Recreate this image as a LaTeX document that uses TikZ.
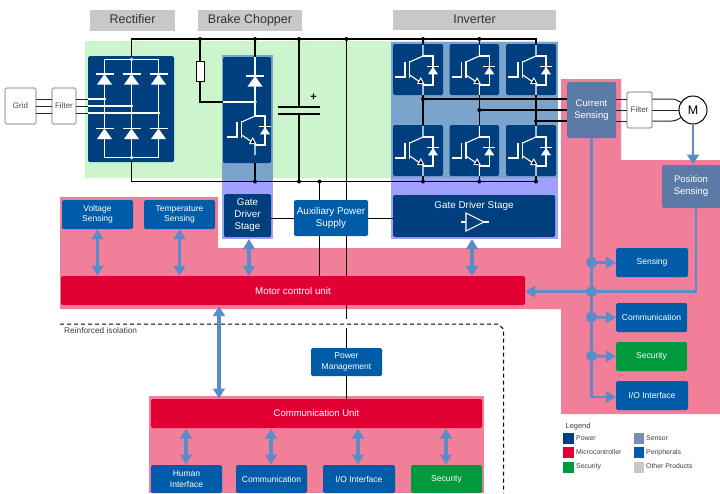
\documentclass[tikz,border=0pt]{standalone}
\usepackage{fontspec}
\setmainfont{Liberation Sans}
\usetikzlibrary{arrows.meta,calc}
\definecolor{navy}{HTML}{003F7D}
\definecolor{periph}{HTML}{005CA9}
\definecolor{mcu}{HTML}{E10033}
\definecolor{secu}{HTML}{009A3D}
\definecolor{sensr}{HTML}{5B7BA6}
\definecolor{pinkbg}{HTML}{F27F99}
\definecolor{greenbg}{HTML}{CCF5CC}
\definecolor{bluebg}{HTML}{7BA4CC}
\definecolor{purplebg}{HTML}{A0A0FF}
\definecolor{graybar}{HTML}{C8C8C8}
\definecolor{arrowblue}{HTML}{5B8BC9}
\definecolor{edge}{HTML}{666666}
\tikzset{
  x=1pt,y=-1pt,
  box/.style={rounded corners=1.5pt,inner sep=0pt,align=center,text=white,font=\fontsize{8.5}{10.5}\selectfont},
  powerbox/.style={box,fill=navy},
  periphbox/.style={box,fill=periph},
  mcubox/.style={box,fill=mcu},
  secubox/.style={box,fill=secu},
  sensbox/.style={box,fill=sensr,font=\fontsize{9.5}{12}\selectfont},
  graybox/.style={inner sep=0pt,fill=graybar,text=black!80,text height=9pt,text depth=2.5pt,font=\fontsize{12.5}{14}\selectfont},
  whitebox/.style={rounded corners=1.5pt,inner sep=0pt,fill=white,draw=edge,line width=.7pt,text=black!70,font=\fontsize{8}{9}\selectfont},
  bus/.style={line width=1.2pt,black},
  wirew/.style={line width=1.1pt,white},
  junction/.style={circle,fill=black,inner sep=0pt,minimum size=4pt},
  jw/.style={circle,fill=white,inner sep=0pt,minimum size=3.8pt},
  jb/.style={circle,fill=arrowblue,inner sep=0pt,minimum size=11pt},
  both/.style={line width=3.1pt,arrowblue,{Triangle[width=11.5pt,length=10pt]}-{Triangle[width=11.5pt,length=10pt]}},
  one/.style={line width=2.8pt,arrowblue,-{Triangle[width=11.5pt,length=10pt]}},
  flow/.style={line width=2.8pt,arrowblue},
  swatch/.style={inner sep=0pt,minimum width=10.5pt,minimum height=11pt},
  legtext/.style={inner sep=0pt,anchor=west,text=black!75,font=\fontsize{6.9}{8}\selectfont},
  diodesym/.pic={
    \fill[white] (-7.5,5.5) -- (7.5,5.5) -- (0,-5) -- cycle;
    \draw[white,line width=1.1pt] (-9,-5) -- (9,-5);
  },
  smalldiode/.pic={
    \fill[white] (-5,3.8) -- (5,3.8) -- (0,-3.6) -- cycle;
    \draw[white,line width=1pt] (-6,-3.6) -- (6,-3.6);
  },
  igbtsym/.pic={
    \draw[wirew] (-27.7,33) -- (-18,33) -- (-18,17.5);
    \draw[wirew,line width=1.2pt] (-13.3,17) -- (-13.3,34);
    \draw[wirew] (0,1) -- (0,12) -- (-13.3,18);
    \draw[wirew] (-13.3,31) -- (0,40) -- (0,51);
    \draw[wirew] (0,12) -- (10,12) -- (10,41) -- (0,41);
    \fill[white] (-6,40) -- (1.5,40) -- (-2.2,33) -- cycle;
    \fill[black] (-4.2,39) -- (-.3,39) -- (-2.2,35.3) -- cycle;
    \path (10,26.5) pic {smalldiode};
  },
}
\newcommand{\bxn}[7]{\node[#6,minimum width={(#4-#2)*1pt},minimum height={(#5-#3)*1pt}] (#1) at ({(#2+#4)/2},{(#3+#5)/2}) {#7};}
\begin{document}
\begin{tikzpicture}
\useasboundingbox (0,0) rectangle (720,493);
\fill[white] (0,0) rectangle (720,493);
% coloured regions
\fill[pinkbg] (60,197) -- (218,197) -- (218,248) -- (561,248) -- (561,79) -- (621,79) -- (621,160) -- (720,160) -- (720,414) -- (561,414) -- (561,309) -- (60,309) -- cycle;
\fill[pinkbg] (149,396) rectangle (484,493);
\fill[greenbg] (85,41) rectangle (558,178);
\fill[purplebg] (222,55) rectangle (273,239);
\fill[bluebg] (222,55) rectangle (273,181);
\fill[purplebg] (391,42) rectangle (558,239);
\fill[bluebg] (391,42) rectangle (558,178);
% header bars
\bxn{hrect}{90}{10}{175}{31}{graybox}{Rectifier}
\bxn{hbrake}{198}{10}{302}{31}{graybox}{Brake Chopper}
\bxn{hinv}{393}{10}{556}{30}{graybox}{Inverter}
% power blocks
\bxn{rect}{88}{56}{174}{162}{powerbox}{}
\bxn{brake}{223}{57}{271}{163}{powerbox}{}
\bxn{i1}{393}{44}{443}{95}{powerbox}{}
\bxn{i2}{449.5}{44}{499}{95}{powerbox}{}
\bxn{i3}{506}{44}{556}{95}{powerbox}{}
\bxn{i4}{393}{125}{443}{176}{powerbox}{}
\bxn{i5}{449.5}{125}{499}{176}{powerbox}{}
\bxn{i6}{506}{125}{556}{176}{powerbox}{}
% DC bus
\coordinate (tl) at (131.5,39); \coordinate (tr) at (536,39);
\coordinate (bl) at (131.5,181.5); \coordinate (br) at (536,181.5);
\draw[bus] (rect.north -| tl) -- (tl) -- (tr) -- (i3.north -| tr);
\draw[bus] (rect.south -| bl) -- (bl) -- (br) -- (i6.south -| br);
% left grid
\bxn{grid}{5}{88}{36}{124}{whitebox}{Grid}
\bxn{lfilt}{52}{88}{76}{124}{whitebox}{Filter}
\foreach \y in {99,106,113}{
  \draw[line width=1pt,black!85] (grid.east |- 0,\y) -- (lfilt.west |- 0,\y);
  \draw[line width=1pt,black!85] (lfilt.east |- 0,\y) -- (rect.west |- 0,\y);
}
% rectifier interior
\draw[wirew] (104.5,59.5) rectangle (158.5,157.5);
\draw[wirew] (131.5,59.5) -- (131.5,157.5);
\draw[wirew] (rect.west |- 0,99) -- (104.5,99);
\draw[wirew] (rect.west |- 0,106) -- (131.5,106);
\draw[wirew] (rect.west |- 0,113) -- (158.5,113);
\foreach \p in {(104.5,99),(131.5,106),(158.5,113),(131.5,59.5),(131.5,157.5)} \node[jw] at \p {};
\foreach \x in {104.5,131.5,158.5}{
  \path (\x,79) pic {diodesym};
  \path (\x,133.5) pic {diodesym};
}
% brake chopper
\coordinate (rtop) at (200,39);
\bxn{res}{196}{61}{204}{81}{rectangle,draw=black,fill=white,line width=.8pt,inner sep=0pt}{}
\coordinate (rj) at (200,102);
\draw[bus] (rtop) -- (res.north);
\draw[bus] (res.south) -- (rj) -- (brake.west |- rj);
\draw[bus] (brake.north -| 255,0) -- (255,39);
\draw[bus] (255,163) -- (255,181.5);
\draw[wirew] (brake.west |- rj) -- (255,102);
\draw[wirew] (255,57) -- (255,116);
\path (255,81) pic {diodesym};
\node[jw] at (255,102) {};
\path (255,104) pic {igbtsym};
% capacitor
\coordinate (captop) at (299,107); \coordinate (capbot) at (299,114);
\draw[bus] (299,39) -- (captop);
\draw[bus] (capbot) -- (299,181.5);
\draw[line width=1.2pt] (278,107) -- (320,107);
\draw[line width=1.2pt] (278,114) -- (320,114);
\node[inner sep=0pt,font=\bfseries\fontsize{11}{11}\selectfont] at (313.5,97) {+};
% inverter
\foreach \n/\x in {1/423,2/479.3,3/536}{ \path (\x,44) pic {igbtsym}; }
\foreach \n/\x in {4/423,5/479.3,6/536}{ \path (\x,125) pic {igbtsym}; }
\draw[bus] (423,39) -- (423,44);
\draw[bus] (479.3,39) -- (479.3,44);
\draw[bus] (423,95) -- (423,125);
\draw[bus] (479.3,95) -- (479.3,125);
\draw[bus] (536,95) -- (536,125);
\draw[bus] (423,176) -- (423,181.5);
\draw[bus] (479.3,176) -- (479.3,181.5);
% current sensing, right filter, motor
\bxn{cs}{567}{82}{616}{138}{sensbox}{Current\\Sensing}
\bxn{rfilt}{627}{92}{652}{128}{whitebox}{Filter}
\node[circle,draw=black,fill=white,line width=1pt,inner sep=0pt,minimum size=28pt,font=\fontsize{12.5}{14}\selectfont] (motor) at (693,110) {M};
\draw[bus] (423,99) -- (cs.west |- 0,99);
\draw[bus] (479.3,110) -- (cs.west |- 0,110);
\draw[bus] (536,121) -- (cs.west |- 0,121);
\foreach \y in {99,110,121}{ \draw[line width=1pt,black!85] (cs.east |- 0,\y) -- (rfilt.west |- 0,\y); }
\draw[line width=1pt,black!85] (rfilt.east |- 0,99) -- (672,99) .. controls (677,99) and (679,102) .. (682,103);
\draw[line width=1pt,black!85] (rfilt.east |- 0,110) -- (motor.west);
\draw[line width=1pt,black!85] (rfilt.east |- 0,121) -- (672,121) .. controls (677,121) and (679,118) .. (682,117);
% junctions
\foreach \p in {(200,39),(255,39),(299,39),(346.5,39),(423,39),(479.3,39),(255,181.5),(299,181.5),(319.5,181.5),(423,181.5),(479.3,181.5),(536,181.5),(423,99),(479.3,110),(536,121)}
  \node[junction] at \p {};
% lower blocks
\bxn{gd1}{224}{194}{271}{237}{powerbox,font=\fontsize{9.8}{12}\selectfont}{Gate\\Driver\\Stage}
\bxn{aux}{294}{200}{368}{236}{periphbox,font=\fontsize{9.9}{12}\selectfont}{Auxiliary Power\\Supply}
\bxn{gd2}{393}{195}{555}{237}{powerbox}{}
\node[inner sep=0pt,text=white,font=\fontsize{9.9}{11}\selectfont] at (474,206) {Gate Driver Stage};
\draw[wirew] (466,213) -- (466,231) -- (484,222) -- cycle;
\draw[wirew] (461,222) -- (466,222);
\draw[wirew] (484,222) -- (489,222);
\bxn{vs}{62}{200}{133}{229}{periphbox}{Voltage\\Sensing}
\bxn{ts}{144}{200}{215}{229}{periphbox}{Temperature\\Sensing}
\bxn{mc}{61}{276}{525}{305}{mcubox,font=\fontsize{9.8}{10}\selectfont}{Motor control unit}
\bxn{sens}{616}{248}{688}{277}{periphbox}{Sensing}
\bxn{comm}{616}{303}{687}{332}{periphbox}{Communication}
\bxn{sec}{616}{342}{687}{371}{secubox}{Security}
\bxn{iof}{616}{381}{688}{410}{periphbox}{I/O Interface}
\bxn{ps}{662}{165}{720}{208}{sensbox}{Position\\Sensing}
\bxn{pm}{311}{348}{382}{376}{periphbox}{Power\\Management}
\bxn{cu}{151}{399}{482}{428}{mcubox,font=\fontsize{9.5}{10}\selectfont}{Communication Unit}
\bxn{hi}{151}{465}{222}{493}{periphbox}{Human\\Interface}
\bxn{co2}{236}{465}{307}{493}{periphbox}{Communication}
\bxn{io2}{323}{465}{395}{493}{periphbox}{I/O Interface}
\bxn{se2}{411}{465}{482}{493}{secubox}{Security}
% black control wiring
\draw[bus,line width=.9pt] (gd1.east |- aux.west) -- (aux.west);
\draw[bus,line width=.9pt] (aux.east) -- (gd2.west |- aux.east);
\draw[bus] (319.5,181.5) -- (319.5,200);
\draw[bus] (319.5,236) -- (319.5,276);
\draw[bus] (346.5,39) -- (346.5,200);
\draw[bus] (346.5,236) -- (346.5,276);
\draw[bus] (346.5,305) -- (346.5,319);
\draw[bus] (346.5,328) -- (pm.north -| 346.5,0);
\draw[bus] (pm.south -| 346.5,0) -- (cu.north -| 346.5,0);
% isolation
\draw[line width=1pt,dash pattern=on 4pt off 3pt] (60,324) -- (498,324) -- (503.5,329) -- (503.5,493);
\node[inner sep=0pt,anchor=west,text=black!75,font=\fontsize{8.3}{9}\selectfont] (iso) at (64,331) {Reinforced isolation};
% blue arrows
\draw[both] (vs.south) -- (vs.south |- mc.north);
\draw[both] (ts.south) -- (ts.south |- mc.north);
\draw[both] (249,239) -- (249,276);
\draw[both] (472,239) -- (472,276);
\draw[both] (219,306) -- (219,398.5);
\draw[both] (186,428.5) -- (186,464.5);
\draw[both] (271,428.5) -- (271,464.5);
\draw[both] (358,428.5) -- (358,464.5);
\draw[both] (446,428.5) -- (446,464.5);
\draw[one] (motor.south) -- (693,164.5);
\coordinate (jh) at (591.5,291.5);
\draw[flow] (cs.south -| jh) -- (591.5,397) -- (605,397);
\draw[one] (591.5,397) -- (iof.west |- 0,397);
\draw[flow] (ps.south -| 696,0) -- (696,291.5) -- (jh);
\draw[one] (jh) -- (mc.east |- jh);
\draw[one] (591.5,262.5) -- (sens.west);
\draw[one] (591.5,317) -- (comm.west);
\draw[one] (591.5,356) -- (sec.west);
\foreach \y in {262.5,291.5,317,356} \node[jb] at (591.5,\y) {};
% legend
\node[legtext,font=\fontsize{7.4}{8}\selectfont] (legt) at (565.5,427) {Legend};
\node[swatch,fill=navy] (l1) at (568.5,438.5) {};
\node[swatch,fill=mcu] (l2) at (568.5,452.5) {};
\node[swatch,fill=secu] (l3) at (568.5,467) {};
\node[swatch,fill=sensr!85!white] (l4) at (639,438.5) {};
\node[swatch,fill=periph] (l5) at (639,452.5) {};
\node[swatch,fill=graybar] (l6) at (639,467) {};
\node[legtext] at (576,438.5) {Power};
\node[legtext] at (576,452.5) {Microcontroller};
\node[legtext] at (576,466.5) {Security};
\node[legtext] at (646,438.5) {Sensor};
\node[legtext] at (646,452.5) {Peripherals};
\node[legtext] at (646,466.5) {Other Products};
\end{tikzpicture}
\end{document}
